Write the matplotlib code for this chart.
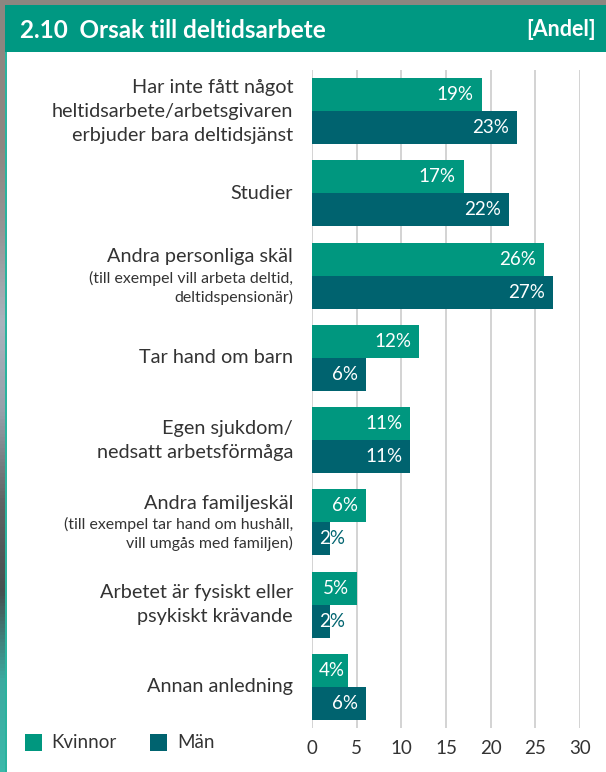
import matplotlib
matplotlib.use("Agg")
import matplotlib.pyplot as plt
from matplotlib.patches import Rectangle
from matplotlib.transforms import Bbox, TransformedBbox
import numpy as np

plt.rcParams['font.family'] = ['Lato', 'DejaVu Sans']

# ---------------- data ----------------
cat_main = [
    ["Har inte fått något", "heltidsarbete/arbetsgivaren", "erbjuder bara deltidsjänst"],
    ["Studier"],
    ["Andra personliga skäl"],
    ["Tar hand om barn"],
    ["Egen sjukdom/", "nedsatt arbetsförmåga"],
    ["Andra familjeskäl"],
    ["Arbetet är fysiskt eller", "psykiskt krävande"],
    ["Annan anledning"],
]
cat_sub = [
    [],
    [],
    ["(till exempel vill arbeta deltid,", "deltidspensionär)"],
    [],
    [],
    ["(till exempel tar hand om hushåll,", "vill umgås med familjen)"],
    [],
    [],
]
kvinnor = [19, 17, 26, 12, 11, 6, 5, 4]
man = [23, 22, 27, 6, 11, 2, 2, 6]
xticks = [0, 5, 10, 15, 20, 25, 30]
series_names = ["Kvinnor", "Män"]
title = "2.10  Orsak till deltidsarbete"
unit = "[Andel]"

# ---------------- style ----------------
C_K = "#00977f"
C_M = "#00636f"
C_HEAD = "#009882"
TXT = "#333333"
W, H = 606, 772

fig = plt.figure(figsize=(W / 100, H / 100), dpi=100)

# background / frame layer in pixel coordinates
bg = fig.add_axes([0, 0, 1, 1], zorder=0)
bg.set_xlim(0, W)
bg.set_ylim(H, 0)
bg.axis('off')
bg.add_patch(Rectangle((0, 0), W, H, color="#8d8680", lw=0))
grad_cols = np.array([
    [141, 134, 128], [141, 134, 128], [150, 150, 150], [170, 180, 190],
    [150, 160, 170], [95, 100, 100], [70, 80, 80], [60, 170, 160], [60, 185, 170]
]) / 255.0
ys = np.linspace(0, 1, len(grad_cols))
yy = np.linspace(0, 1, 200)
strip = np.stack([np.interp(yy, ys, grad_cols[:, c]) for c in range(3)], axis=-1)[:, None, :]
bg.imshow(strip, extent=(0, 6, H, 52), aspect='auto', zorder=1)
bg.add_patch(Rectangle((7, 52), W - 7, H - 52, color="white", lw=0, zorder=2))
bg.add_patch(Rectangle((5, 52), 2.2, H - 52, color="#2bb39e", lw=0, zorder=2))
bg.add_patch(Rectangle((5, 5), W - 5, 47, color=C_HEAD, lw=0, zorder=3))
bg.text(20, 30, title, color="white", fontsize=17.5, fontweight='bold',
        va='center', ha='left', zorder=4)
bg.text(596, 30, unit, color="white", fontsize=15.5, fontweight='bold',
        va='center', ha='right', zorder=4)

# legend
for (x0, tx), name, col in zip([(25, 51), (150, 177)], series_names, [C_K, C_M]):
    bg.add_patch(Rectangle((x0, 734), 17, 17, color=col, lw=0, zorder=4))
    bg.text(tx, 743, name, color=TXT, fontsize=13.5, va='center', ha='left', zorder=4)

# main axes
ax = fig.add_axes([312 / W, 1 - 728 / H, (580 - 312) / W, (728 - 70) / H], zorder=2)
ax.set_facecolor('none')
n = len(kvinnor)
y = np.arange(n)
bh = 0.40
ax.set_ylim(n - 0.5, -0.5)
ax.set_xlim(0, 30)
for s in ax.spines.values():
    s.set_visible(False)
ax.set_xticks(xticks)
ax.set_xticklabels([str(t) for t in xticks], fontsize=13.5, color=TXT)
ax.tick_params(axis='x', length=0, pad=9)
ax.set_yticks([])
ax.grid(axis='x', color="#cccccc", lw=1.2, zorder=0)
ax.set_axisbelow(True)

bars_k = ax.barh(y - bh / 2, kvinnor, height=bh, color=C_K, zorder=3)
bars_m = ax.barh(y + bh / 2, man, height=bh, color=C_M, zorder=3)

fig.canvas.draw()
renderer = fig.canvas.get_renderer()
px_per_unit = ax.transData.transform((1, 0))[0] - ax.transData.transform((0, 0))[0]
for bars, vals, col in [(bars_k, kvinnor, C_K), (bars_m, man, C_M)]:
    for b, v in zip(bars, vals):
        yc = b.get_y() + b.get_height() / 2
        lbl = f"{v}%"
        t = ax.text(0, yc, lbl, fontsize=13.5, va='center', ha='left')
        tw = t.get_window_extent(renderer).width
        t.remove()
        x_left_px = max(v * px_per_unit - 8 - tw, 7)
        xd = x_left_px / px_per_unit
        ax.text(xd, yc, lbl, fontsize=13.5, va='center', ha='left', color=col,
                zorder=2, clip_on=False)
        t_in = ax.text(xd, yc, lbl, fontsize=13.5, va='center', ha='left',
                       color='white', zorder=4)
        bb = Bbox.from_extents(b.get_x(), b.get_y(), b.get_x() + b.get_width(),
                               b.get_y() + b.get_height())
        t_in.set_clip_box(TransformedBbox(bb, ax.transData))
        t_in.set_clip_on(True)

# category labels
ytr = ax.get_yaxis_transform()
main_lh, sub_lh = 24, 19
for i in range(n):
    lines = [(s, 14.3, main_lh) for s in cat_main[i]] + [(s, 11.4, sub_lh) for s in cat_sub[i]]
    total = sum(l[2] for l in lines)
    top = total / 2.0
    acc = 0
    for s, fs, lh in lines:
        off = top - acc - lh / 2.0
        ax.annotate(s, xy=(0, i), xycoords=ytr, xytext=(-19, off),
                    textcoords='offset pixels', ha='right', va='center',
                    fontsize=fs, color=TXT, annotation_clip=False)
        acc += lh

fig.savefig("out.png", dpi=100)
